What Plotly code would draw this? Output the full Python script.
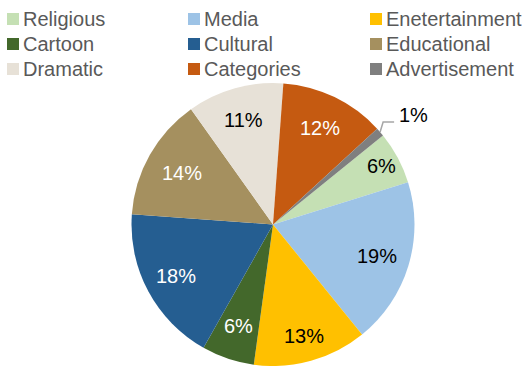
import math
import plotly.graph_objects as go

# Share of programme content by category (percent)
categories = ["Religious", "Media", "Enetertainment", "Cartoon", "Cultural",
              "Educational", "Dramatic", "Categories", "Advertisement"]
shares = [6, 19, 13, 6, 18, 14, 11, 12, 1]
colors = ["#C5E0B4", "#9DC3E6", "#FFC000", "#43682B", "#255E91",
          "#A5905F", "#E7E1D7", "#C55A11", "#7F7F7F"]
label_colors = ["#000000", "#000000", "#000000", "#FFFFFF", "#FFFFFF",
                "#FFFFFF", "#000000", "#FFFFFF", "#000000"]
# radial placement of the inside labels, as a fraction of the pie radius
label_radius = [0.87, 0.77, 0.82, 0.755, 0.776, 0.74, 0.77, 0.76]

W, H = 530, 366
ML, MR, MT, MB = 16, 0, 83, 0
ROTATION = 51
FONT = "Liberation Sans, Arial, sans-serif"

fig = go.Figure(go.Pie(
    labels=categories,
    values=shares,
    sort=False,
    direction="clockwise",
    rotation=ROTATION,
    marker=dict(colors=colors, line=dict(width=0)),
    textinfo="none",
    hoverinfo="label+percent",
    showlegend=False,
))

# Pixel geometry of the pie (plotly fits it into the plot area)
pw, ph = W - ML - MR, H - MT - MB
cx, cy = ML + pw / 2, MT + ph / 2
r = min(pw, ph) / 2
total = sum(shares)


def px(x):
    return (x - ML) / pw


def py(y):
    return 1 - (y - MT) / ph


def mid_angle(i):
    return math.radians(ROTATION + (sum(shares[:i]) + shares[i] / 2) / total * 360)


# Percentage labels inside the slices
for i, v in enumerate(shares[:-1]):
    a = mid_angle(i)
    rr = label_radius[i] * r
    fig.add_annotation(
        x=px(cx + rr * math.sin(a)), y=py(cy - rr * math.cos(a)),
        xref="paper", yref="paper", showarrow=False,
        xanchor="center", yanchor="middle",
        text=f"{v / total:.0%}",
        font=dict(family=FONT, size=20, color=label_colors[i]),
    )

# Leader line and label for the smallest slice
idx = len(shares) - 1
a = mid_angle(idx)
x0, y0 = cx + r * math.sin(a), cy - r * math.cos(a)
x1, y1 = x0 + 3, y0 - 10
x2, y2 = x1 + 11, y1
fig.add_shape(type="path",
              path=f"M {px(x0)} {py(y0)} L {px(x1)} {py(y1)} L {px(x2)} {py(y2)}",
              xref="paper", yref="paper",
              line=dict(color="#A6A6A6", width=1.5))
fig.add_annotation(x=px(x2 + 3), y=py(y2 - 7), xref="paper", yref="paper",
                   text=f"{shares[idx] / total:.0%}", showarrow=False,
                   xanchor="left", yanchor="middle",
                   font=dict(family=FONT, size=20, color="#000000"))

# Three-column legend above the pie
col_x = [7, 188, 370]
row_y = [19, 44, 69]
sq = 12
for i, name in enumerate(categories):
    lx, ly = col_x[i % 3], row_y[i // 3]
    fig.add_shape(type="rect", xref="paper", yref="paper",
                  x0=px(lx), x1=px(lx + sq), y0=py(ly + sq / 2), y1=py(ly - sq / 2),
                  fillcolor=colors[i], line=dict(width=0))
    fig.add_annotation(x=px(lx + sq + 2), y=py(ly), xref="paper", yref="paper",
                       text=name, showarrow=False, xanchor="left", yanchor="middle",
                       font=dict(family=FONT, size=20, color="#595959"))

fig.update_layout(
    width=W, height=H,
    margin=dict(l=ML, r=MR, t=MT, b=MB),
    paper_bgcolor="white",
)

fig.write_html("out.html")
